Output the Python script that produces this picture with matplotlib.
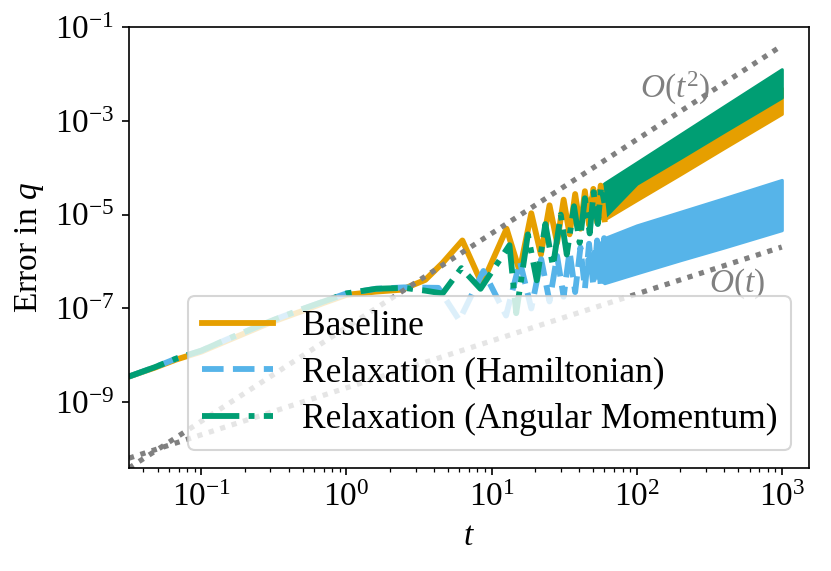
import numpy as np
import matplotlib
matplotlib.use("Agg")
import matplotlib.pyplot as plt

plt.rcParams['font.family'] = ['Liberation Serif', 'DejaVu Serif']
plt.rcParams['mathtext.fontset'] = 'custom'
plt.rcParams['mathtext.rm'] = 'Liberation Serif'
plt.rcParams['mathtext.it'] = 'Liberation Serif:italic'
plt.rcParams['font.size'] = 16

# ---- data (log10 of error) ----
# common early part (all three methods coincide)
t_early = [0.0318, 0.048, 0.067, 0.1, 0.15, 0.3, 0.5, 0.7, 1.0, 1.6]
e_early = [-8.45, -8.26, -8.09, -7.92, -7.69, -7.30, -7.05, -6.88, -6.71, -6.64]
e_early_rel = [-8.45, -8.25, -8.07, -7.90, -7.66, -7.27, -7.01, -6.85, -6.68, -6.58]

# baseline oscillation extrema
t_base = [2.4, 3.5, 4.6, 6.3, 8.6, 12.7, 15.6, 18.8, 21.9, 25.1, 28.3, 31.4, 34.5,
          37.7, 41.0, 44.0, 47.0, 50.3, 53.4, 56.5, 60.0]
e_base = [-6.60, -6.39, -6.03, -5.55, -6.48, -5.30, -6.20, -4.97, -5.85, -4.80, -5.60,
          -4.68, -5.42, -4.56, -5.30, -4.50, -5.22, -4.45, -5.16, -4.38, -5.10]

# relaxation (Hamiltonian) oscillation extrema
t_ham = [2.5, 4.3, 6.0, 8.8, 12.6, 15.7, 18.8, 22.0, 25.1, 28.3, 31.4, 34.5, 37.7,
         41.0, 44.0, 47.0, 50.3, 53.4, 56.5, 59.7, 62.8]
e_ham = [-6.55, -6.56, -7.25, -6.20, -7.15, -6.00, -7.00, -5.95, -6.85, -5.88, -6.75,
         -5.78, -6.65, -5.70, -6.58, -5.62, -6.52, -5.55, -6.48, -5.50, -6.45]

# relaxation (angular momentum) oscillation extrema
t_ang = [2.5, 3.5, 4.6, 6.2, 8.4, 13.3, 14.8, 17.8, 20.5, 23.5, 26.5, 30.0, 33.0,
         37.0, 40.5, 44.0, 47.5, 50.5, 54.0, 57.0, 60.0]
e_ang = [-6.56, -6.62, -6.68, -6.14, -6.58, -5.65, -7.10, -5.42, -6.40, -5.20, -6.10,
         -5.00, -5.85, -4.82, -5.60, -4.65, -5.40, -4.52, -5.20, -4.40, -4.75]

# dense oscillation bands (lower / upper envelopes) for large t
t_band = [45, 60, 100, 200, 400, 1000]
base_lo = [-4.95, -5.10, -4.69, -4.14, -3.58, -2.85]
base_hi = [-4.70, -4.35, -3.95, -3.40, -2.85, -2.30]
ham_lo = [-6.15, -6.46, -6.25, -5.97, -5.70, -5.33]
ham_hi = [-5.95, -5.50, -5.23, -4.94, -4.65, -4.26]
ang_lo = [-4.95, -5.05, -4.34, -3.79, -3.23, -2.50]
ang_hi = [-4.75, -4.33, -3.89, -3.29, -2.69, -1.90]

# reference slopes
t_ref = [0.0318, 1000]
ref_t = [-10.19, -5.69]
ref_t2 = [-10.40, -1.40]

labels = ['Baseline', 'Relaxation (Hamiltonian)', 'Relaxation (Angular Momentum)']
colors = ['#E69F00', '#56B4E9', '#009E73']
styles = ['-', '--', '-.']

p = lambda a: np.power(10.0, np.asarray(a, dtype=float))

fig = plt.figure(figsize=(831/150, 571/150), dpi=150)
ax = fig.add_axes([129/831, 1-468/571, (809-129)/831, (468-27)/571])

series = [
    (t_early + t_base, e_early + e_base, base_lo, base_hi),
    (t_early + t_ham, e_early_rel + e_ham, ham_lo, ham_hi),
    (t_early + t_ang, e_early_rel + e_ang, ang_lo, ang_hi),
]
lw = 2.8
for (tt, ee, lo, hi), c, ls, lab in zip(series, colors, styles, labels):
    ax.plot(tt, p(ee), color=c, ls=ls, lw=lw, label=lab, solid_joinstyle='round')
    ax.fill_between(t_band, p(lo), p(hi), color=c, lw=1.5, edgecolor=c,
                    joinstyle='round')

dot = (0, (1, 1.3))
ax.plot(t_ref, p(ref_t), color='0.5', ls=dot, lw=2.5)
ax.plot(t_ref, p(ref_t2), color='0.5', ls=dot, lw=2.5)
ax.text(183, 5e-3, r'$O(t^2)$', color='0.5', ha='center', va='center', fontsize=16)
ax.text(492, 3.4e-7, r'$O(t)$', color='0.5', ha='center', va='center', fontsize=16)

ax.set_xscale('log')
ax.set_yscale('log')
ax.set_xlim(0.0318, 1540)
ax.set_ylim(10**-10.4, 0.1)
ax.yaxis.set_major_locator(matplotlib.ticker.FixedLocator([1e-9, 1e-7, 1e-5, 1e-3, 1e-1]))
ax.yaxis.set_minor_locator(matplotlib.ticker.NullLocator())
ax.xaxis.set_major_locator(matplotlib.ticker.LogLocator(base=10, numticks=20))
ax.xaxis.set_minor_locator(matplotlib.ticker.LogLocator(base=10, subs=np.arange(2, 10), numticks=20))
ax.set_xlabel(r'$t$')
ax.set_ylabel(r'Error in $q$')

ax.legend(loc='lower right', fontsize=17, labelspacing=0.38)
fig.savefig('out.png', dpi=150)
